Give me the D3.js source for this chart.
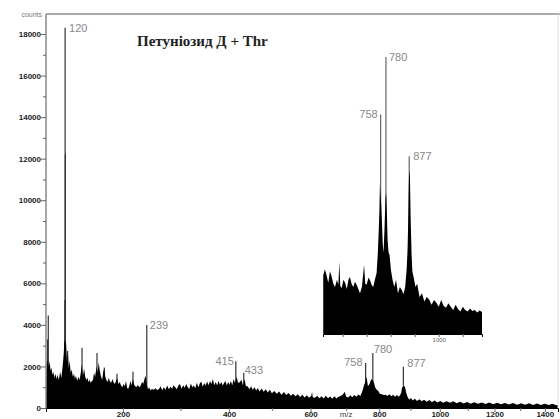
<!DOCTYPE html>
<html>
<head>
<meta charset="utf-8">
<script src="https://cdn.jsdelivr.net/npm/d3@7"></script>
<style>
  html, body { margin: 0; padding: 0; background: #fff; }
  svg { display: block; }
</style>
</head>
<body>
<script>
// main spectrum profile, m/z and counts
var spectrumMz = [98, 98.6, 99.3, 100.2, 101, 102, 103, 104, 105, 106, 107.5, 108.5, 110, 111, 112.5, 114, 115.5, 117, 118.3, 119.3,
    121.2, 122.3, 123.3, 124.5, 125.5, 126.8, 128, 129.5, 131, 132.2, 133.5, 135, 136.5, 138, 139.5, 141, 142.5, 144, 145.5, 147,
    148.5, 150, 151.5, 153, 154.5, 156, 157.5, 159, 161, 162.5, 164, 165.5, 167, 169, 170.5, 172, 173.5, 175, 177, 178.5,
    180, 182, 184, 185.5, 187.5, 189.5, 191, 193, 195, 197, 199, 201, 203, 204.8, 206.5, 208, 210, 212, 214, 216,
    217.5, 219.5, 221.5, 223.5, 225.5, 227.5, 229.5, 231.5, 233, 235, 237, 239.5, 241, 243, 245, 248, 251, 254, 257, 260,
    263, 266, 269, 272, 275, 278, 281, 284, 287, 290, 293, 296, 299, 302, 305, 308, 311, 314, 317, 320,
    323, 326, 329, 332, 335, 338, 341, 344, 347, 350, 353, 356, 359, 362, 365, 368, 371, 374, 377, 380,
    383, 386, 389, 392, 395, 398, 401, 404, 407, 410, 413, 417, 420, 424, 428, 431, 435, 438, 442, 446,
    450, 454, 458, 462, 466, 470, 475, 480, 485, 490, 495, 500, 506, 512, 518, 524, 530, 536, 542, 548,
    554, 560, 566, 572, 578, 584, 590, 596, 602, 604, 606, 612, 618, 624, 630, 636, 642, 648, 654, 660,
    666, 672, 678, 684, 690, 696, 700, 706, 712, 718, 724, 730, 736, 742, 746, 750, 753, 756, 761, 765,
    770, 773, 777, 783, 787, 792, 797, 802, 808, 814, 820, 826, 832, 838, 844, 850, 856, 862, 867, 870,
    873, 882, 886, 890, 896, 902, 908, 915, 922, 930, 938, 946, 955, 964, 973, 982, 992, 1002, 1012, 1024,
    1036, 1048, 1060, 1072, 1085, 1098, 1110, 1124, 1138, 1152, 1166, 1180, 1195, 1210, 1225, 1240, 1256, 1272, 1288, 1304,
    1320, 1336, 1352, 1368, 1384, 1400, 1416, 1432, 1448, 1455];
var spectrumCounts = [800, 2300, 2100, 2350, 1950, 2250, 1800, 1950, 1600, 1750, 1450, 1650, 1400, 1600, 1350, 1750, 1450, 2000, 2600, 3300,
    3100, 2200, 2700, 1900, 2300, 1700, 1850, 1500, 1650, 1400, 1550, 1300, 1500, 1350, 1650, 2100, 1550, 1900, 1500, 1350,
    1450, 1250, 1350, 1200, 1300, 1350, 1700, 1500, 2000, 1700, 2200, 1800, 1550, 1350, 1750, 1900, 1500, 1350, 1250, 1450,
    1300, 1200, 1400, 1250, 1150, 1300, 1450, 1150, 1250, 1100, 1000, 1150, 1050, 1300, 1000, 900, 1050, 1300, 1100, 1400,
    1150, 1050, 1000, 1100, 1050, 1000, 1150, 1250, 1150, 1400, 1550, 1050, 900, 1000, 850, 920, 880, 950, 870, 900,
    1050, 850, 1000, 880, 1080, 900, 1020, 930, 1100, 1000, 900, 1080, 1150, 930, 1100, 980, 1150, 1000, 920, 1180,
    1000, 1080, 950, 1220, 1000, 1180, 1280, 1020, 1200, 1080, 1280, 1100, 1300, 1150, 1400, 1100, 1250, 1080, 1300, 1120,
    1250, 1080, 1200, 1300, 1080, 1250, 1120, 1300, 1100, 1400, 1200, 1500, 1200, 1250, 1350, 1100, 1380, 1050, 1050, 900,
    1050, 880, 1000, 840, 960, 800, 940, 780, 900, 750, 880, 710, 820, 680, 790, 640, 770, 620, 720, 590,
    690, 560, 660, 530, 640, 510, 610, 490, 590, 780, 520, 490, 590, 470, 570, 460, 590, 470, 550, 450,
    560, 460, 540, 580, 640, 780, 540, 500, 610, 520, 630, 540, 650, 580, 720, 900, 1100, 1200, 1500, 1050,
    1150, 1300, 1400, 1250, 1000, 880, 820, 680, 660, 620, 640, 580, 660, 560, 640, 540, 620, 540, 640, 750,
    1000, 1050, 750, 560, 400, 480, 360, 440, 340, 420, 320, 400, 300, 380, 280, 360, 270, 340, 250, 320,
    250, 320, 230, 300, 220, 290, 210, 280, 200, 270, 190, 260, 180, 250, 175, 240, 170, 235, 160, 230,
    155, 225, 150, 220, 145, 210, 140, 200, 130, 150];

// narrow peaks drawn as sticks
var spikeMz = [99.8, 100.5, 119.7, 120, 120.3, 123, 141.3, 161.6, 172, 190.9, 216, 239, 415, 433, 758, 780, 877];
var spikeCounts = [3300, 4450, 5200, 18300, 12200, 2750, 2900, 2650, 1950, 1650, 1750, 4000, 2250, 1700, 2170, 2650, 1980];

var peakLabels = ["120", "239", "415", "433", "758", "780", "877"];
var peakLabelMz = [120, 239, 415, 433, 758, 780, 877];
var peakLabelCounts = [18300, 4000, 2250, 1700, 2170, 2650, 1980];

// inset (linear m/z)
var insetMz = [519, 526, 533, 540, 547, 554, 561, 568, 576, 582, 586, 590, 596, 603, 610, 617, 624, 630, 637, 644,
    651, 658, 665, 672, 680, 689, 694, 700, 707, 714, 720, 727, 734, 741, 746, 750, 753, 755, 757, 760,
    763, 767, 770, 774, 778, 781, 784, 787, 791, 795, 801, 808, 815, 822, 830, 838, 846, 853, 860, 866,
    870, 872, 875, 877, 880, 883, 887, 890, 896, 903, 910, 920, 930, 940, 950, 960, 970, 980, 990, 1000,
    1010, 1020, 1030, 1040, 1050, 1060, 1070, 1080, 1090, 1100, 1110, 1120, 1130, 1140, 1150, 1160, 1170, 1180];
var insetCounts = [560, 620, 560, 490, 600, 550, 480, 450, 520, 470, 690, 460, 440, 520, 490, 430, 520, 545, 480, 450,
    500, 470, 430, 390, 450, 660, 480, 470, 540, 515, 470, 450, 520, 580, 760, 980, 1200, 1440, 1350, 1250,
    1100, 850, 780, 1000, 1300, 1350, 1150, 900, 780, 755, 610, 515, 450, 520, 390, 450, 420, 380, 450, 610,
    800, 1000, 1400, 1570, 1500, 1100, 750, 600, 535, 450, 480, 355, 390, 310, 355, 330, 280, 325, 300, 260,
    325, 270, 250, 295, 260, 230, 280, 240, 215, 260, 230, 215, 245, 220, 230, 205, 225, 210];
var insetSpikeMz = [758, 780, 877];
var insetSpikeCounts = [2100, 2650, 1700];
var insetLabels = ["758", "780", "877"];

var yTickValues = [0, 2000, 4000, 6000, 8000, 10000, 12000, 14000, 16000, 18000];
var yMinorValues = [1000, 3000, 5000, 7000, 9000, 11000, 13000, 15000, 17000];
var xTickValues = [200, 400, 600, 800, 1000, 1200, 1400];
var xMinorValues = [300, 500, 700, 900, 1100, 1300];
var insetTickValues = [600, 700, 800, 900, 1000, 1100];
var insetTickLabels = [1000];

var titleText = "Петуніозид Д + Thr";
var yName = "counts";
var xName = "m/z";

var W = 560, H = 419;
var pLeft = 46, pTop = 14, pRight = 558, pBottom = 408;

var svg = d3.select("body").append("svg")
    .attr("width", W)
    .attr("height", H);

var x = d3.scaleSqrt().domain([98, 1455]).range([pLeft, pRight]);
var y = d3.scaleLinear().domain([0, 18000]).range([pBottom, 34]);

svg.append("clipPath").attr("id", "plotclip")
    .append("rect")
    .attr("x", pLeft).attr("y", pTop)
    .attr("width", pRight - pLeft).attr("height", pBottom - pTop);

var plot = svg.append("g").attr("clip-path", "url(#plotclip)");

var spectrum = spectrumMz.map(function (m, i) { return [m, spectrumCounts[i]]; });

// sticks first, so the filled profile covers their lower part
plot.selectAll(".spike")
    .data(spikeMz)
    .enter().append("line")
    .attr("class", "spike")
    .attr("x1", function (d) { return x(d); })
    .attr("x2", function (d) { return x(d); })
    .attr("y1", pBottom)
    .attr("y2", function (d, i) { return y(spikeCounts[i]); })
    .attr("stroke", "#333")
    .attr("stroke-width", 1.2);

plot.append("path")
    .datum(spectrum)
    .attr("fill", "#000")
    .attr("d", d3.area()
        .x(function (d) { return x(d[0]); })
        .y0(pBottom)
        .y1(function (d) { return y(d[1]); }));

// frame
svg.append("line")
    .attr("x1", pLeft).attr("x2", W).attr("y1", pTop).attr("y2", pTop)
    .attr("stroke", "#aaa").attr("stroke-width", 2);
svg.append("line")
    .attr("x1", pRight).attr("x2", pRight).attr("y1", pTop).attr("y2", pBottom)
    .attr("stroke", "#ddd").attr("stroke-width", 1);

// y axis
var yAxis = svg.append("g")
    .attr("transform", "translate(" + pLeft + ",0)")
    .call(d3.axisLeft(y).tickValues(yTickValues).tickSize(5).tickFormat(d3.format("d")));
svg.append("g")
    .attr("transform", "translate(" + pLeft + ",0)")
    .call(d3.axisLeft(y).tickValues(yMinorValues).tickSize(3).tickFormat(""))
    .select(".domain").remove();
yAxis.select(".domain").attr("d", "M0," + pTop + "V" + pBottom).attr("stroke", "#888").attr("stroke-width", 1.5);
yAxis.selectAll("text")
    .attr("font-family", "Liberation Sans, Arial, sans-serif")
    .attr("font-size", 8)
    .attr("font-weight", "bold")
    .attr("fill", "#222")
    .attr("x", -5);

svg.append("text")
    .attr("x", 42).attr("y", 17)
    .attr("text-anchor", "end")
    .attr("font-family", "Liberation Sans, Arial, sans-serif")
    .attr("font-size", 7)
    .attr("fill", "#777")
    .text(yName);

// x axis
var xAxis = svg.append("g")
    .attr("transform", "translate(0," + pBottom + ")")
    .call(d3.axisBottom(x).tickValues(xTickValues).tickSize(4).tickFormat(d3.format("d")));
svg.append("g")
    .attr("transform", "translate(0," + pBottom + ")")
    .call(d3.axisBottom(x).tickValues(xMinorValues).tickSize(3).tickFormat(""))
    .select(".domain").remove();
xAxis.select(".domain").attr("stroke", "#000");
xAxis.selectAll("text")
    .attr("font-family", "Liberation Sans, Arial, sans-serif")
    .attr("font-size", 8)
    .attr("font-weight", "bold")
    .attr("fill", "#222")
    .attr("dy", null)
    .attr("y", 9);
svg.selectAll(".tick line").attr("stroke", "#666");

svg.append("text")
    .attr("x", x(700)).attr("y", pBottom + 9)
    .attr("text-anchor", "middle")
    .attr("font-family", "Liberation Sans, Arial, sans-serif")
    .attr("font-size", 8)
    .attr("fill", "#444")
    .text(xName);

// peak labels on the main plot
var labelDx = [4, 3, -2, 1, -3, 1, 4];
var labelDy = [4, 4, 4, 1, 3, 0, 0];
var labelAnchor = ["start", "start", "end", "start", "end", "start", "start"];
svg.selectAll(".plabel")
    .data(peakLabels)
    .enter().append("text")
    .attr("class", "plabel")
    .attr("x", function (d, i) { return x(peakLabelMz[i]) + labelDx[i]; })
    .attr("y", function (d, i) { return y(peakLabelCounts[i]) + labelDy[i]; })
    .attr("text-anchor", function (d, i) { return labelAnchor[i]; })
    .attr("font-family", "Liberation Sans, Arial, sans-serif")
    .attr("font-size", 11)
    .attr("fill", "#888")
    .text(function (d) { return d; });

// title
svg.append("text")
    .attr("x", 137).attr("y", 46)
    .attr("font-family", "Liberation Serif, Times New Roman, serif")
    .attr("font-size", 15)
    .attr("font-weight", "bold")
    .attr("fill", "#222")
    .text(titleText);

// inset
var ix = d3.scaleLinear().domain([518, 1180]).range([323, 482]);
var iy = d3.scaleLinear().domain([0, 2650]).range([334, 57]);
var inset = svg.append("g");
var insetData = insetMz.map(function (m, i) { return [m, insetCounts[i]]; });

inset.selectAll(".ispike")
    .data(insetSpikeMz)
    .enter().append("line")
    .attr("class", "ispike")
    .attr("x1", function (d) { return ix(d); })
    .attr("x2", function (d) { return ix(d); })
    .attr("y1", iy(0))
    .attr("y2", function (d, i) { return iy(insetSpikeCounts[i]); })
    .attr("stroke", "#666")
    .attr("stroke-width", 1.2);

inset.append("path")
    .datum(insetData)
    .attr("fill", "#000")
    .attr("d", d3.area()
        .x(function (d) { return ix(d[0]); })
        .y0(iy(0))
        .y1(function (d) { return iy(d[1]); }));

var insetAxis = inset.append("g")
    .attr("transform", "translate(0," + iy(0) + ")")
    .call(d3.axisBottom(ix).tickValues(insetTickValues).tickSize(3)
        .tickFormat(function (d) { return insetTickLabels.indexOf(d) >= 0 ? d : ""; }));
insetAxis.select(".domain").attr("stroke", "#000");
insetAxis.selectAll(".tick line").attr("stroke", "#666");
insetAxis.selectAll("text")
    .attr("font-family", "Liberation Sans, Arial, sans-serif")
    .attr("font-size", 6)
    .attr("fill", "#666")
    .attr("y", 4);

var ilabelDx = [-3, 3, 4];
var ilabelDy = [4, 4, 4];
var ilabelAnchor = ["end", "start", "start"];
inset.selectAll(".ilabel")
    .data(insetLabels)
    .enter().append("text")
    .attr("class", "ilabel")
    .attr("x", function (d, i) { return ix(insetSpikeMz[i]) + ilabelDx[i]; })
    .attr("y", function (d, i) { return iy(insetSpikeCounts[i]) + ilabelDy[i]; })
    .attr("text-anchor", function (d, i) { return ilabelAnchor[i]; })
    .attr("font-family", "Liberation Sans, Arial, sans-serif")
    .attr("font-size", 11)
    .attr("fill", "#888")
    .text(function (d) { return d; });
</script>
</body>
</html>
